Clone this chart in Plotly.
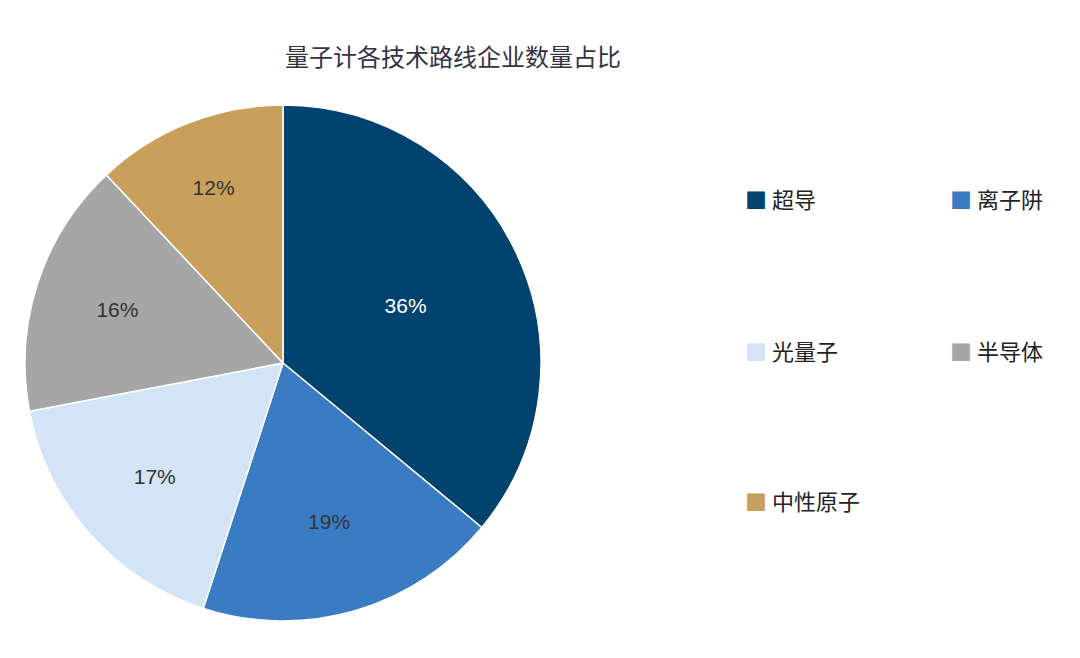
import plotly.graph_objects as go

labels = ["超导", "离子阱", "光量子", "半导体", "中性原子"]
values = [36, 19, 17, 16, 12]
colors = ["#02426E", "#3A7CC4", "#D2E4F6", "#A6A6A6", "#C8A05C"]
text_colors = ["white", "#333333", "#333333", "#333333", "#333333"]

fig = go.Figure(go.Pie(
    labels=labels, values=values, sort=False, direction="clockwise", rotation=0,
    marker=dict(colors=colors, line=dict(color="white", width=1.5)),
    texttemplate="%{value}%", textposition="inside",
    insidetextfont=dict(size=21, color=text_colors, family="Liberation Sans"),
    domain=dict(x=[17/1080, 533/1080], y=[1-613/658, 1-97/658]),
    showlegend=False, hoverinfo="skip"))

pos = [(735, 172), (940, 172), (735, 342), (940, 342), (735, 510)]
for (x, y), lab, c in zip(pos, labels, colors):
    fig.add_annotation(x=x/1080, y=1-y/658, xref="paper", yref="paper", xanchor="left",
                       showarrow=False,
                       text=f"<span style='color:{c}'>■</span> {lab}",
                       font=dict(size=22, color="#222222", family="Noto Sans CJK SC"))

fig.update_layout(
    width=1080, height=658, margin=dict(l=0, r=0, t=0, b=0),
    paper_bgcolor="white", plot_bgcolor="white",
    title=dict(text="量子计各技术路线企业数量占比", x=445/1080, xanchor="center", y=1-50/658, yanchor="middle",
               font=dict(size=24, color="#333344", family="Noto Sans CJK SC")))

fig.write_html("out.html")
